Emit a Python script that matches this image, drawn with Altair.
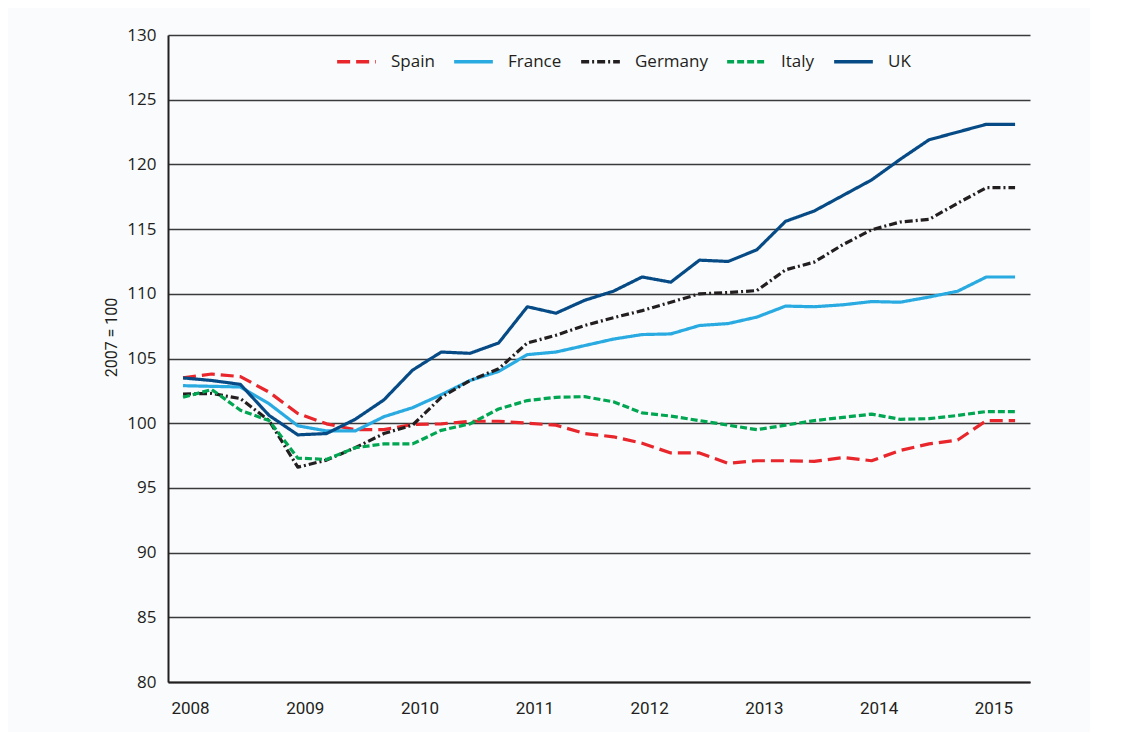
import altair as alt
import pandas as pd

series_names = ["Spain", "France", "Germany", "Italy", "UK"]
series_colors = ["#e8262b", "#29aae1", "#231f20", "#00a651", "#064b86"]
series_dashes = [[13, 6], [1, 0], [8, 3, 2, 3], [7, 3], [1, 0]]

start_year = 2008
year_ticks = [2008, 2009, 2010, 2011, 2012, 2013, 2014, 2015]

spain = [103.5, 103.8, 103.6, 102.4, 100.75, 99.95, 99.5, 99.5, 99.9, 99.95,
         100.15, 100.15, 100.0, 99.85, 99.2, 98.95, 98.45, 97.7, 97.7, 96.9,
         97.1, 97.1, 97.05, 97.35, 97.1, 97.9, 98.4, 98.7, 100.2, 100.2]
france = [102.9, 102.85, 102.8, 101.5, 99.8, 99.4, 99.4, 100.5, 101.2, 102.2,
          103.3, 104.0, 105.3, 105.5, 106.0, 106.5, 106.85, 106.9, 107.55, 107.7,
          108.2, 109.05, 109.0, 109.15, 109.4, 109.35, 109.75, 110.2, 111.3, 111.3]
germany = [102.25, 102.3, 101.9, 100.2, 96.6, 97.15, 98.1, 99.2, 99.85, 102.0,
           103.3, 104.2, 106.2, 106.8, 107.55, 108.15, 108.7, 109.35, 110.0, 110.1,
           110.25, 111.85, 112.45, 113.8, 114.95, 115.55, 115.75, 117.0, 118.2, 118.2]
italy = [102.0, 102.6, 101.0, 100.2, 97.3, 97.2, 98.1, 98.4, 98.4, 99.45,
         99.95, 101.1, 101.75, 102.0, 102.05, 101.65, 100.8, 100.55, 100.2, 99.85,
         99.5, 99.85, 100.2, 100.45, 100.7, 100.3, 100.35, 100.6, 100.9, 100.9]
uk = [103.5, 103.3, 103.0, 100.6, 99.1, 99.2, 100.3, 101.8, 104.1, 105.5,
      105.4, 106.2, 109.0, 108.5, 109.5, 110.2, 111.3, 110.9, 112.6, 112.5,
      113.4, 115.6, 116.4, 117.6, 118.8, 120.4, 121.9, 122.5, 123.1, 123.1]

values = {"Spain": spain, "France": france, "Germany": germany, "Italy": italy, "UK": uk}

rows = []
for name in series_names:
    for i, v in enumerate(values[name]):
        rows.append({"country": name, "t": start_year + i * 0.25, "value": v, "order": i})
df = pd.DataFrame(rows)

font = "Open Sans"
xfont = "Liberation Sans Narrow, Roboto, Open Sans"

legend_kw = dict(orient="none", legendX=167, legendY=5, direction="horizontal",
                 columns=5, title=None, symbolType="stroke",
                 symbolSize=1500, symbolStrokeWidth=3.5, gridAlign="each",
                 labelFont=font, labelFontSize=17, labelColor="#231f20",
                 labelOffset=13, columnPadding=12)

chart = alt.Chart(df).mark_line(strokeWidth=3.2, strokeCap="butt", strokeJoin="round").encode(
    x=alt.X("t:Q",
            scale=alt.Scale(domain=[2007.869, 2015.380], nice=False, zero=False),
            axis=alt.Axis(values=year_ticks, format="d", title=None, grid=False, ticks=False,
                          domainColor="#231f20", domainWidth=2,
                          labelFont=xfont, labelFontSize=17, labelColor="#231f20",
                          labelPadding=18, labelOffset=7, labelFlush=False)),
    y=alt.Y("value:Q",
            scale=alt.Scale(domain=[80, 130], nice=False, zero=False),
            axis=alt.Axis(values=[80, 85, 90, 95, 100, 105, 110, 115, 120, 125, 130],
                          title="2007 = 100", titleFont=xfont, titleFontSize=16,
                          titleFontWeight="normal", titleColor="#231f20",
                          titleX=-49, titleY=302, titleAngle=-90,
                          grid=True, gridColor="#3a3a3a", gridWidth=1.6,
                          ticks=False, domainColor="#231f20", domainWidth=2,
                          labelFont=font, labelFontSize=17, labelColor="#231f20",
                          labelPadding=12)),
    color=alt.Color("country:N",
                    scale=alt.Scale(domain=series_names, range=series_colors),
                    legend=alt.Legend(**legend_kw)),
    strokeDash=alt.StrokeDash("country:N",
                              scale=alt.Scale(domain=series_names, range=series_dashes),
                              legend=alt.Legend(**legend_kw)),
    order=alt.Order("order:Q"),
).properties(
    width=862, height=647,
    autosize=alt.AutoSizeParams(type="none"),
    padding={"left": 160, "top": 27, "right": 60, "bottom": 50},
    background="#fafbfd",
).configure_view(stroke=None)

chart.save("out.html", embed_options={"renderer": "svg", "actions": False})
